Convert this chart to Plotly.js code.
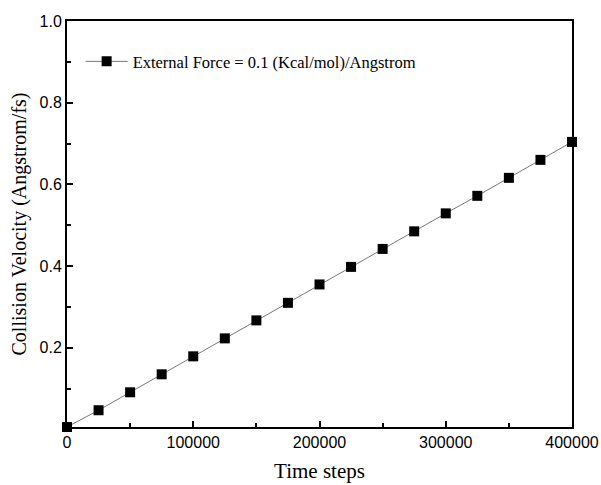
<!DOCTYPE html>
<html><head><meta charset="utf-8">
<script src="https://cdn.plot.ly/plotly-3.0.1.min.js"></script>
<style>body{margin:0;padding:0;background:#fff}#chart{width:601px;height:485px}</style>
</head><body><div id="chart"></div>
<script>
const timeSteps = [0, 25000, 50000, 75000, 100000, 125000, 150000, 175000, 200000, 225000, 250000, 275000, 300000, 325000, 350000, 375000, 400000];
const velocity = [0.006, 0.047, 0.091, 0.135, 0.179, 0.223, 0.267, 0.310, 0.355, 0.398, 0.442, 0.485, 0.529, 0.572, 0.616, 0.660, 0.704];
const seriesName = "External Force = 0.1 (Kcal/mol)/Angstrom";
const xTickVals = [0, 100000, 200000, 300000, 400000];
const xTickText = ["0", "100000", "200000", "300000", "400000"];
const yTickVals = [0.2, 0.4, 0.6, 0.8, 1.0];
const yTickText = ["0.2", "0.4", "0.6", "0.8", "1.0"];

const trace = {
  x: timeSteps, y: velocity, name: seriesName,
  type: 'scatter', mode: 'lines+markers',
  line: {color: '#555', width: 0.8},
  marker: {symbol: 'square', size: 10, color: '#000'},
  cliponaxis: false
};
const tickFont = {family: 'Liberation Sans, Arial, sans-serif', size: 16, color: '#000'};
const serif = 'Liberation Serif, Times New Roman, serif';
const layout = {
  width: 601, height: 485,
  margin: {l: 67, r: 29, t: 21, b: 58},
  paper_bgcolor: '#fff', plot_bgcolor: '#fff',
  showlegend: true,
  legend: {x: 0.027, y: 0.943, xanchor: 'left', yanchor: 'top', bgcolor: 'rgba(0,0,0,0)',
           itemwidth: 42,
           font: {family: serif, size: 16.5, color: '#000'}},
  xaxis: {
    range: [0, 400000], tickmode: 'array', tickvals: xTickVals, ticktext: xTickText,
    ticks: 'inside', ticklen: 6, tickwidth: 2, tickcolor: '#000',
    minor: {ticks: 'inside', ticklen: 4, tickwidth: 2, tickcolor: '#000', tickvals: [50000, 150000, 250000, 350000]},
    showline: true, linewidth: 2, linecolor: '#000', mirror: true,
    showgrid: false, zeroline: false, tickfont: tickFont,
    title: {text: 'Time steps', font: {family: serif, size: 21, color: '#000'}, standoff: 13}
  },
  yaxis: {
    range: [0.006, 1.0], tickmode: 'array', tickvals: yTickVals, ticktext: yTickText,
    ticks: 'inside', ticklen: 6, tickwidth: 2, tickcolor: '#000',
    minor: {ticks: 'inside', ticklen: 4, tickwidth: 2, tickcolor: '#000', tickvals: [0.1, 0.3, 0.5, 0.7, 0.9]},
    showline: true, linewidth: 2, linecolor: '#000', mirror: true,
    showgrid: false, zeroline: false, tickfont: tickFont,
    title: {text: 'Collision Velocity (Angstrom/fs)', font: {family: serif, size: 20, color: '#000'}, standoff: 8}
  }
};
Plotly.newPlot('chart', [trace], layout, {displayModeBar: false, staticPlot: true});
</script></body></html>
